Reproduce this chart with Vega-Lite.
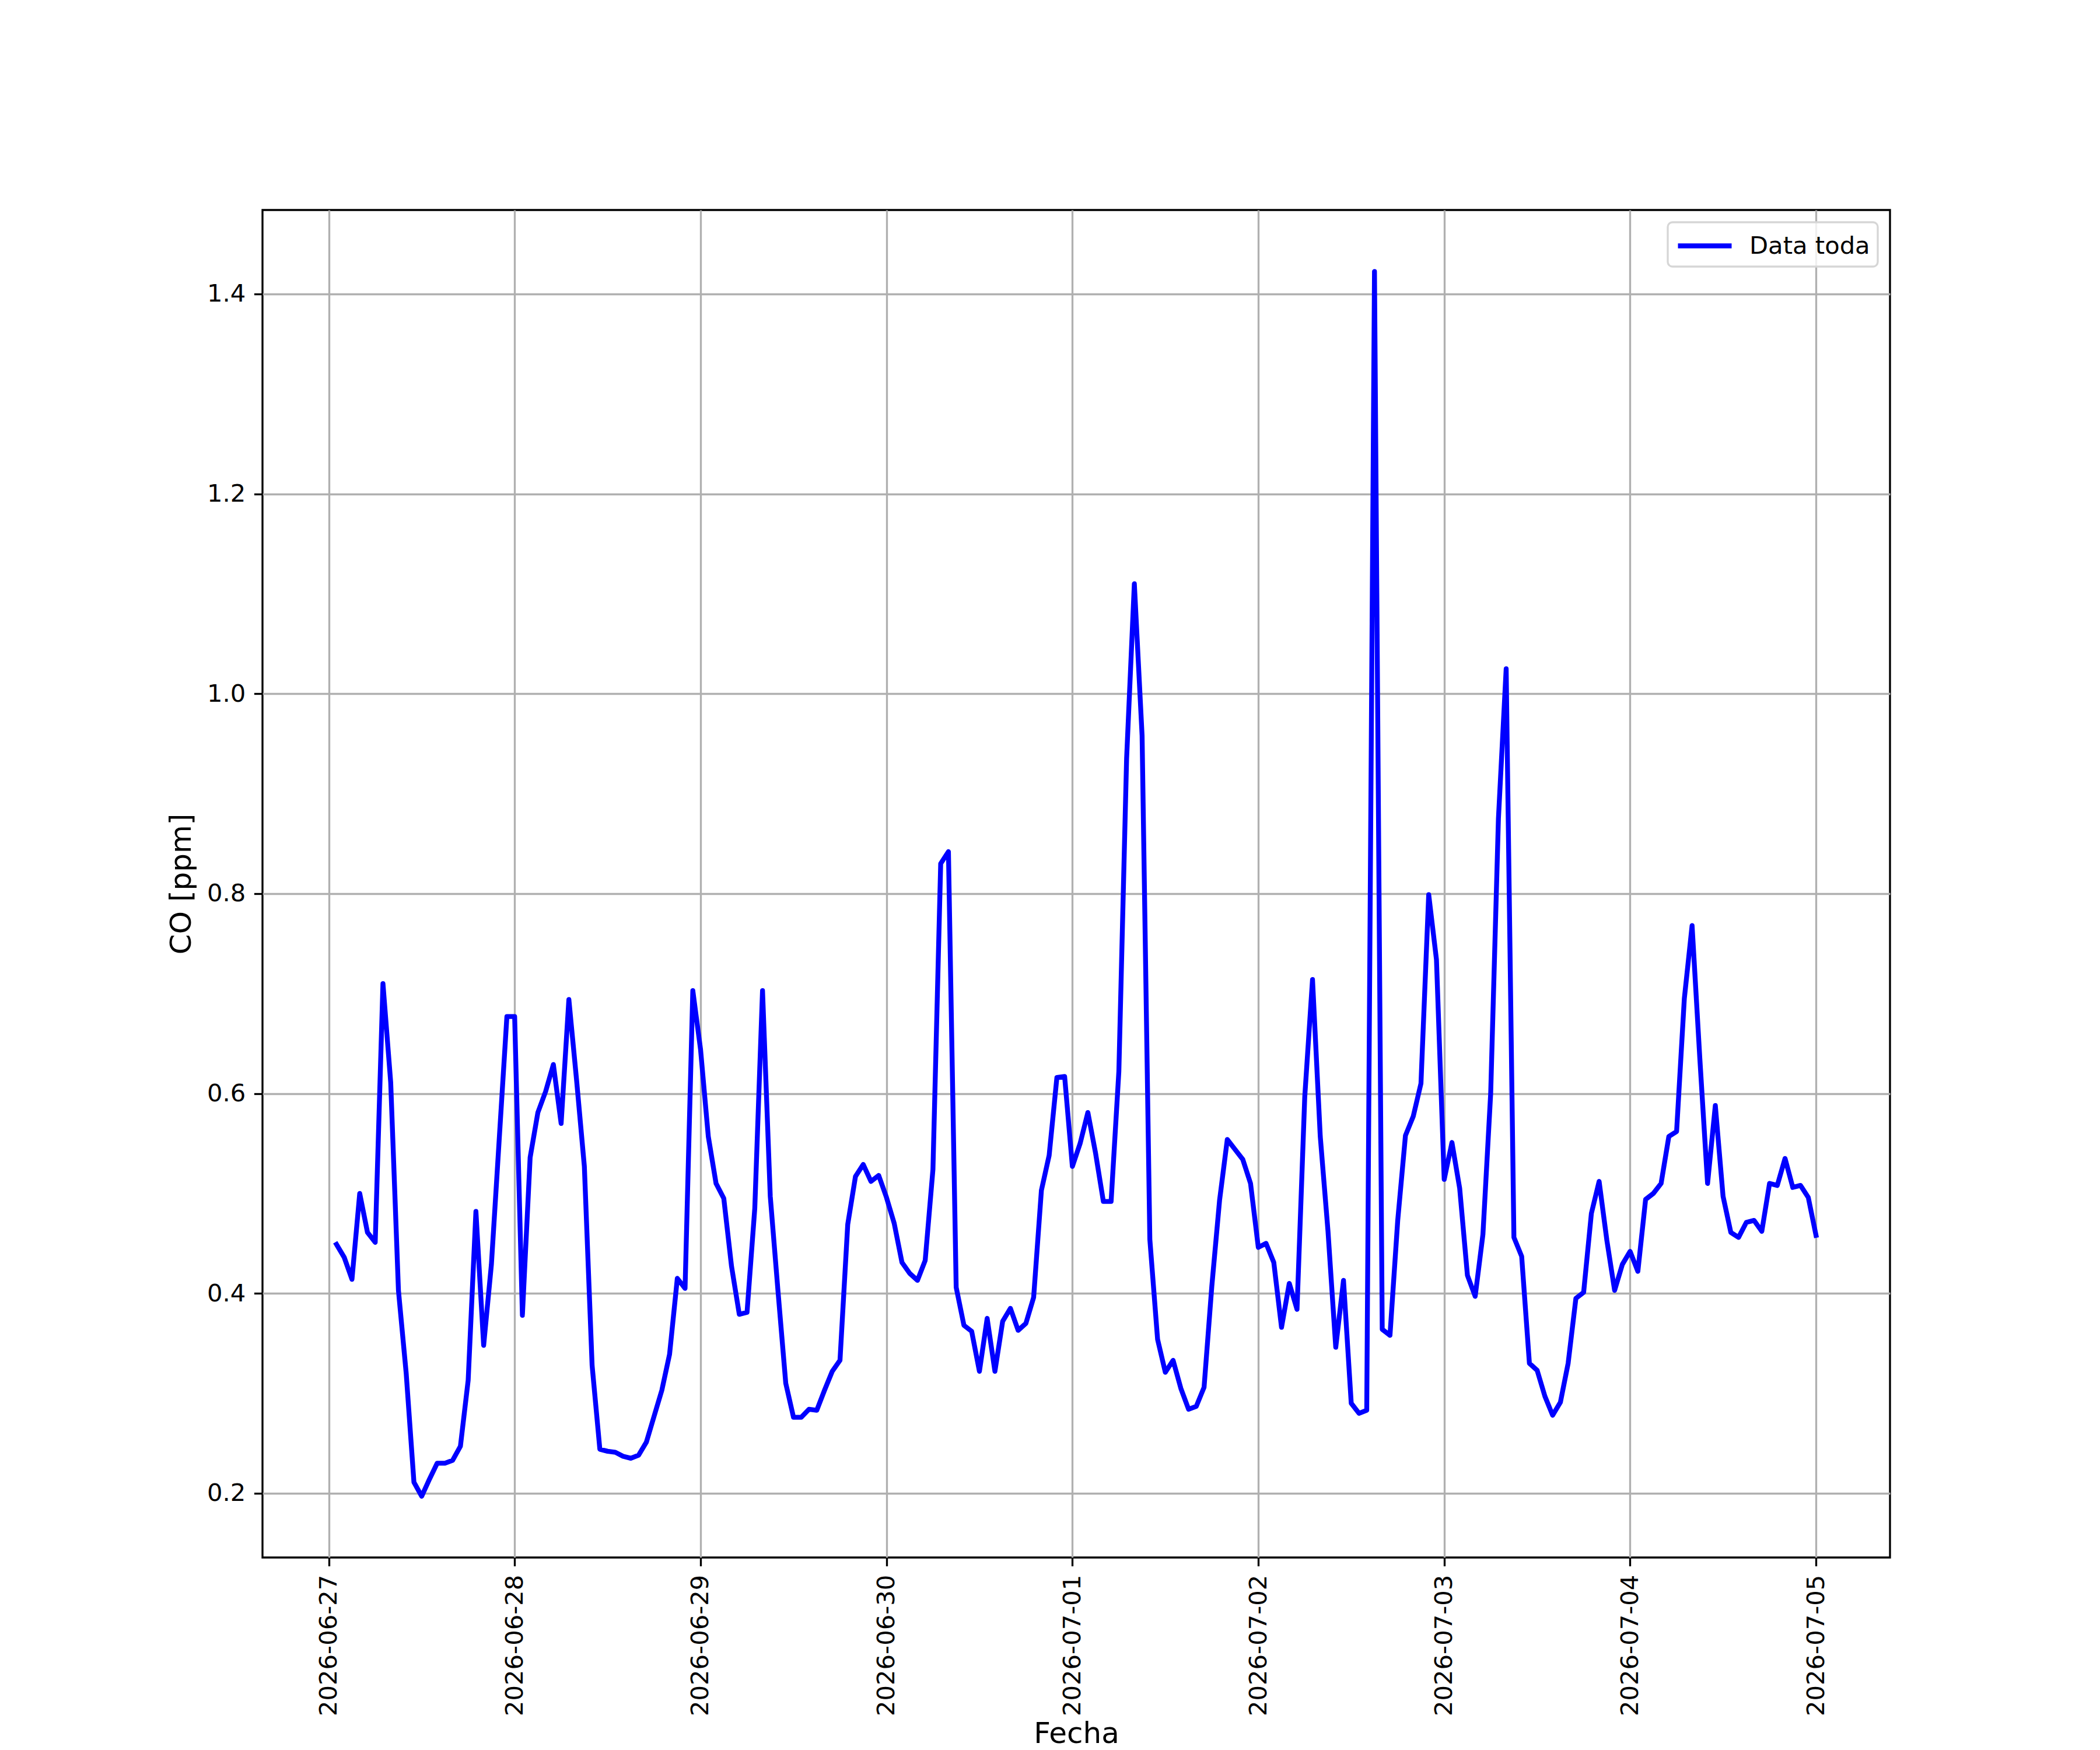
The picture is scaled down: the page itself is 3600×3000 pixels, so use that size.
{
  "$schema": "https://vega.github.io/schema/vega-lite/v6.json",
  "width": 2790,
  "height": 2310,
  "autosize": "none",
  "padding": {"left": 450, "top": 360, "right": 360, "bottom": 330},
  "background": "white",
  "data": {
    "values": [
      {"t": "2026-06-27T01:00:00Z", "co": 0.449},
      {"t": "2026-06-27T02:00:00Z", "co": 0.436},
      {"t": "2026-06-27T03:00:00Z", "co": 0.414},
      {"t": "2026-06-27T04:00:00Z", "co": 0.500},
      {"t": "2026-06-27T05:00:00Z", "co": 0.461},
      {"t": "2026-06-27T06:00:00Z", "co": 0.451},
      {"t": "2026-06-27T07:00:00Z", "co": 0.710},
      {"t": "2026-06-27T08:00:00Z", "co": 0.611},
      {"t": "2026-06-27T09:00:00Z", "co": 0.403},
      {"t": "2026-06-27T10:00:00Z", "co": 0.320},
      {"t": "2026-06-27T11:00:00Z", "co": 0.211},
      {"t": "2026-06-27T12:00:00Z", "co": 0.197},
      {"t": "2026-06-27T13:00:00Z", "co": 0.214},
      {"t": "2026-06-27T14:00:00Z", "co": 0.230},
      {"t": "2026-06-27T15:00:00Z", "co": 0.230},
      {"t": "2026-06-27T16:00:00Z", "co": 0.233},
      {"t": "2026-06-27T17:00:00Z", "co": 0.247},
      {"t": "2026-06-27T18:00:00Z", "co": 0.313},
      {"t": "2026-06-27T19:00:00Z", "co": 0.482},
      {"t": "2026-06-27T20:00:00Z", "co": 0.348},
      {"t": "2026-06-27T21:00:00Z", "co": 0.429},
      {"t": "2026-06-27T22:00:00Z", "co": 0.553},
      {"t": "2026-06-27T23:00:00Z", "co": 0.677},
      {"t": "2026-06-28T00:00:00Z", "co": 0.677},
      {"t": "2026-06-28T01:00:00Z", "co": 0.378},
      {"t": "2026-06-28T02:00:00Z", "co": 0.536},
      {"t": "2026-06-28T03:00:00Z", "co": 0.581},
      {"t": "2026-06-28T04:00:00Z", "co": 0.602},
      {"t": "2026-06-28T05:00:00Z", "co": 0.629},
      {"t": "2026-06-28T06:00:00Z", "co": 0.570},
      {"t": "2026-06-28T07:00:00Z", "co": 0.694},
      {"t": "2026-06-28T08:00:00Z", "co": 0.613},
      {"t": "2026-06-28T09:00:00Z", "co": 0.527},
      {"t": "2026-06-28T10:00:00Z", "co": 0.328},
      {"t": "2026-06-28T11:00:00Z", "co": 0.244},
      {"t": "2026-06-28T12:00:00Z", "co": 0.242},
      {"t": "2026-06-28T13:00:00Z", "co": 0.241},
      {"t": "2026-06-28T14:00:00Z", "co": 0.237},
      {"t": "2026-06-28T15:00:00Z", "co": 0.235},
      {"t": "2026-06-28T16:00:00Z", "co": 0.238},
      {"t": "2026-06-28T17:00:00Z", "co": 0.251},
      {"t": "2026-06-28T18:00:00Z", "co": 0.277},
      {"t": "2026-06-28T19:00:00Z", "co": 0.303},
      {"t": "2026-06-28T20:00:00Z", "co": 0.339},
      {"t": "2026-06-28T21:00:00Z", "co": 0.415},
      {"t": "2026-06-28T22:00:00Z", "co": 0.405},
      {"t": "2026-06-28T23:00:00Z", "co": 0.703},
      {"t": "2026-06-29T00:00:00Z", "co": 0.644},
      {"t": "2026-06-29T01:00:00Z", "co": 0.557},
      {"t": "2026-06-29T02:00:00Z", "co": 0.510},
      {"t": "2026-06-29T03:00:00Z", "co": 0.495},
      {"t": "2026-06-29T04:00:00Z", "co": 0.427},
      {"t": "2026-06-29T05:00:00Z", "co": 0.379},
      {"t": "2026-06-29T06:00:00Z", "co": 0.381},
      {"t": "2026-06-29T07:00:00Z", "co": 0.485},
      {"t": "2026-06-29T08:00:00Z", "co": 0.703},
      {"t": "2026-06-29T09:00:00Z", "co": 0.497},
      {"t": "2026-06-29T10:00:00Z", "co": 0.402},
      {"t": "2026-06-29T11:00:00Z", "co": 0.310},
      {"t": "2026-06-29T12:00:00Z", "co": 0.276},
      {"t": "2026-06-29T13:00:00Z", "co": 0.276},
      {"t": "2026-06-29T14:00:00Z", "co": 0.284},
      {"t": "2026-06-29T15:00:00Z", "co": 0.283},
      {"t": "2026-06-29T16:00:00Z", "co": 0.303},
      {"t": "2026-06-29T17:00:00Z", "co": 0.322},
      {"t": "2026-06-29T18:00:00Z", "co": 0.333},
      {"t": "2026-06-29T19:00:00Z", "co": 0.469},
      {"t": "2026-06-29T20:00:00Z", "co": 0.517},
      {"t": "2026-06-29T21:00:00Z", "co": 0.529},
      {"t": "2026-06-29T22:00:00Z", "co": 0.512},
      {"t": "2026-06-29T23:00:00Z", "co": 0.518},
      {"t": "2026-06-30T00:00:00Z", "co": 0.496},
      {"t": "2026-06-30T01:00:00Z", "co": 0.470},
      {"t": "2026-06-30T02:00:00Z", "co": 0.431},
      {"t": "2026-06-30T03:00:00Z", "co": 0.420},
      {"t": "2026-06-30T04:00:00Z", "co": 0.413},
      {"t": "2026-06-30T05:00:00Z", "co": 0.433},
      {"t": "2026-06-30T06:00:00Z", "co": 0.524},
      {"t": "2026-06-30T07:00:00Z", "co": 0.830},
      {"t": "2026-06-30T08:00:00Z", "co": 0.842},
      {"t": "2026-06-30T09:00:00Z", "co": 0.406},
      {"t": "2026-06-30T10:00:00Z", "co": 0.368},
      {"t": "2026-06-30T11:00:00Z", "co": 0.362},
      {"t": "2026-06-30T12:00:00Z", "co": 0.322},
      {"t": "2026-06-30T13:00:00Z", "co": 0.375},
      {"t": "2026-06-30T14:00:00Z", "co": 0.322},
      {"t": "2026-06-30T15:00:00Z", "co": 0.372},
      {"t": "2026-06-30T16:00:00Z", "co": 0.385},
      {"t": "2026-06-30T17:00:00Z", "co": 0.363},
      {"t": "2026-06-30T18:00:00Z", "co": 0.370},
      {"t": "2026-06-30T19:00:00Z", "co": 0.396},
      {"t": "2026-06-30T20:00:00Z", "co": 0.503},
      {"t": "2026-06-30T21:00:00Z", "co": 0.538},
      {"t": "2026-06-30T22:00:00Z", "co": 0.616},
      {"t": "2026-06-30T23:00:00Z", "co": 0.617},
      {"t": "2026-07-01T00:00:00Z", "co": 0.527},
      {"t": "2026-07-01T01:00:00Z", "co": 0.550},
      {"t": "2026-07-01T02:00:00Z", "co": 0.581},
      {"t": "2026-07-01T03:00:00Z", "co": 0.540},
      {"t": "2026-07-01T04:00:00Z", "co": 0.492},
      {"t": "2026-07-01T05:00:00Z", "co": 0.492},
      {"t": "2026-07-01T06:00:00Z", "co": 0.622},
      {"t": "2026-07-01T07:00:00Z", "co": 0.935},
      {"t": "2026-07-01T08:00:00Z", "co": 1.110},
      {"t": "2026-07-01T09:00:00Z", "co": 0.958},
      {"t": "2026-07-01T10:00:00Z", "co": 0.454},
      {"t": "2026-07-01T11:00:00Z", "co": 0.354},
      {"t": "2026-07-01T12:00:00Z", "co": 0.321},
      {"t": "2026-07-01T13:00:00Z", "co": 0.333},
      {"t": "2026-07-01T14:00:00Z", "co": 0.305},
      {"t": "2026-07-01T15:00:00Z", "co": 0.284},
      {"t": "2026-07-01T16:00:00Z", "co": 0.287},
      {"t": "2026-07-01T17:00:00Z", "co": 0.306},
      {"t": "2026-07-01T18:00:00Z", "co": 0.407},
      {"t": "2026-07-01T19:00:00Z", "co": 0.493},
      {"t": "2026-07-01T20:00:00Z", "co": 0.554},
      {"t": "2026-07-01T21:00:00Z", "co": 0.544},
      {"t": "2026-07-01T22:00:00Z", "co": 0.534},
      {"t": "2026-07-01T23:00:00Z", "co": 0.510},
      {"t": "2026-07-02T00:00:00Z", "co": 0.446},
      {"t": "2026-07-02T01:00:00Z", "co": 0.450},
      {"t": "2026-07-02T02:00:00Z", "co": 0.431},
      {"t": "2026-07-02T03:00:00Z", "co": 0.366},
      {"t": "2026-07-02T04:00:00Z", "co": 0.410},
      {"t": "2026-07-02T05:00:00Z", "co": 0.384},
      {"t": "2026-07-02T06:00:00Z", "co": 0.597},
      {"t": "2026-07-02T07:00:00Z", "co": 0.714},
      {"t": "2026-07-02T08:00:00Z", "co": 0.557},
      {"t": "2026-07-02T09:00:00Z", "co": 0.462},
      {"t": "2026-07-02T10:00:00Z", "co": 0.346},
      {"t": "2026-07-02T11:00:00Z", "co": 0.413},
      {"t": "2026-07-02T12:00:00Z", "co": 0.290},
      {"t": "2026-07-02T13:00:00Z", "co": 0.280},
      {"t": "2026-07-02T14:00:00Z", "co": 0.283},
      {"t": "2026-07-02T15:00:00Z", "co": 1.4225},
      {"t": "2026-07-02T16:00:00Z", "co": 0.364},
      {"t": "2026-07-02T17:00:00Z", "co": 0.358},
      {"t": "2026-07-02T18:00:00Z", "co": 0.473},
      {"t": "2026-07-02T19:00:00Z", "co": 0.558},
      {"t": "2026-07-02T20:00:00Z", "co": 0.577},
      {"t": "2026-07-02T21:00:00Z", "co": 0.610},
      {"t": "2026-07-02T22:00:00Z", "co": 0.799},
      {"t": "2026-07-02T23:00:00Z", "co": 0.734},
      {"t": "2026-07-03T00:00:00Z", "co": 0.514},
      {"t": "2026-07-03T01:00:00Z", "co": 0.551},
      {"t": "2026-07-03T02:00:00Z", "co": 0.505},
      {"t": "2026-07-03T03:00:00Z", "co": 0.418},
      {"t": "2026-07-03T04:00:00Z", "co": 0.397},
      {"t": "2026-07-03T05:00:00Z", "co": 0.459},
      {"t": "2026-07-03T06:00:00Z", "co": 0.600},
      {"t": "2026-07-03T07:00:00Z", "co": 0.875},
      {"t": "2026-07-03T08:00:00Z", "co": 1.025},
      {"t": "2026-07-03T09:00:00Z", "co": 0.456},
      {"t": "2026-07-03T10:00:00Z", "co": 0.437},
      {"t": "2026-07-03T11:00:00Z", "co": 0.330},
      {"t": "2026-07-03T12:00:00Z", "co": 0.323},
      {"t": "2026-07-03T13:00:00Z", "co": 0.297},
      {"t": "2026-07-03T14:00:00Z", "co": 0.278},
      {"t": "2026-07-03T15:00:00Z", "co": 0.291},
      {"t": "2026-07-03T16:00:00Z", "co": 0.330},
      {"t": "2026-07-03T17:00:00Z", "co": 0.395},
      {"t": "2026-07-03T18:00:00Z", "co": 0.401},
      {"t": "2026-07-03T19:00:00Z", "co": 0.480},
      {"t": "2026-07-03T20:00:00Z", "co": 0.512},
      {"t": "2026-07-03T21:00:00Z", "co": 0.453},
      {"t": "2026-07-03T22:00:00Z", "co": 0.403},
      {"t": "2026-07-03T23:00:00Z", "co": 0.429},
      {"t": "2026-07-04T00:00:00Z", "co": 0.442},
      {"t": "2026-07-04T01:00:00Z", "co": 0.422},
      {"t": "2026-07-04T02:00:00Z", "co": 0.494},
      {"t": "2026-07-04T03:00:00Z", "co": 0.500},
      {"t": "2026-07-04T04:00:00Z", "co": 0.510},
      {"t": "2026-07-04T05:00:00Z", "co": 0.557},
      {"t": "2026-07-04T06:00:00Z", "co": 0.562},
      {"t": "2026-07-04T07:00:00Z", "co": 0.695},
      {"t": "2026-07-04T08:00:00Z", "co": 0.768},
      {"t": "2026-07-04T09:00:00Z", "co": 0.635},
      {"t": "2026-07-04T10:00:00Z", "co": 0.510},
      {"t": "2026-07-04T11:00:00Z", "co": 0.588},
      {"t": "2026-07-04T12:00:00Z", "co": 0.497},
      {"t": "2026-07-04T13:00:00Z", "co": 0.461},
      {"t": "2026-07-04T14:00:00Z", "co": 0.456},
      {"t": "2026-07-04T15:00:00Z", "co": 0.471},
      {"t": "2026-07-04T16:00:00Z", "co": 0.473},
      {"t": "2026-07-04T17:00:00Z", "co": 0.462},
      {"t": "2026-07-04T18:00:00Z", "co": 0.510},
      {"t": "2026-07-04T19:00:00Z", "co": 0.508},
      {"t": "2026-07-04T20:00:00Z", "co": 0.535},
      {"t": "2026-07-04T21:00:00Z", "co": 0.506},
      {"t": "2026-07-04T22:00:00Z", "co": 0.508},
      {"t": "2026-07-04T23:00:00Z", "co": 0.496},
      {"t": "2026-07-05T00:00:00Z", "co": 0.458}
    ]
  },
  "mark": {"type": "line", "strokeWidth": 8.33, "strokeJoin": "round", "strokeCap": "square"},
  "encoding": {
    "x": {
      "field": "t",
      "type": "temporal",
      "scale": {
        "type": "utc",
        "domain": [
          {"year": 2026, "month": 6, "date": 26, "hours": 15, "minutes": 27, "utc": true},
          {"year": 2026, "month": 7, "date": 5, "hours": 9, "minutes": 33, "utc": true}
        ]
      },
      "axis": {
        "title": "Fecha",
        "values": [
          {"year": 2026, "month": 6, "date": 27, "utc": true},
          {"year": 2026, "month": 6, "date": 28, "utc": true},
          {"year": 2026, "month": 6, "date": 29, "utc": true},
          {"year": 2026, "month": 6, "date": 30, "utc": true},
          {"year": 2026, "month": 7, "date": 1, "utc": true},
          {"year": 2026, "month": 7, "date": 2, "utc": true},
          {"year": 2026, "month": 7, "date": 3, "utc": true},
          {"year": 2026, "month": 7, "date": 4, "utc": true},
          {"year": 2026, "month": 7, "date": 5, "utc": true}
        ],
        "labelExpr": "utcFormat(datum.value, '%Y-%m-%d')",
        "labelAngle": -90,
        "titleBaseline": "alphabetic",
        "titleY": 317
      }
    },
    "y": {
      "field": "co",
      "type": "quantitative",
      "scale": {"domain": [0.1357, 1.484], "nice": false, "zero": false},
      "axis": {
        "title": "CO [ppm]",
        "values": [0.2, 0.4, 0.6, 0.8, 1.0, 1.2, 1.4],
        "format": ".1f",
        "titlePadding": 18
      }
    },
    "color": {
      "datum": "Data toda",
      "type": "nominal",
      "scale": {"range": ["#0000ff"]},
      "legend": {
        "title": null,
        "orient": "top-right",
        "offset": 21,
        "symbolType": "M-2,0H2",
        "symbolStrokeWidth": 8.33,
        "symbolSize": 2116,
        "symbolOffset": 23,
        "labelFont": "DejaVu Sans",
        "labelFontSize": 41.7,
        "labelColor": "black",
        "labelLimit": 0,
        "labelOffset": 49,
        "padding": 13,
        "strokeColor": "#d6d6d6",
        "cornerRadius": 8,
        "fillColor": "rgba(255,255,255,0.8)"
      }
    }
  },
  "config": {
    "view": {"stroke": "black", "strokeWidth": 3.33},
    "axis": {
      "domain": false,
      "grid": true,
      "gridColor": "#b0b0b0",
      "gridWidth": 3.33,
      "gridOpacity": 1,
      "ticks": true,
      "tickColor": "black",
      "tickWidth": 3.33,
      "tickSize": 14.6,
      "labelPadding": 14.6,
      "labelFont": "DejaVu Sans",
      "labelFontSize": 41.7,
      "labelColor": "black",
      "labelFlush": false,
      "labelOverlap": false,
      "labelBound": false,
      "labelLimit": 0,
      "titleFont": "DejaVu Sans",
      "titleFontSize": 50,
      "titleFontWeight": "normal",
      "titleColor": "black"
    },
    "legend": {"strokeWidth": 3.33}
  }
}
